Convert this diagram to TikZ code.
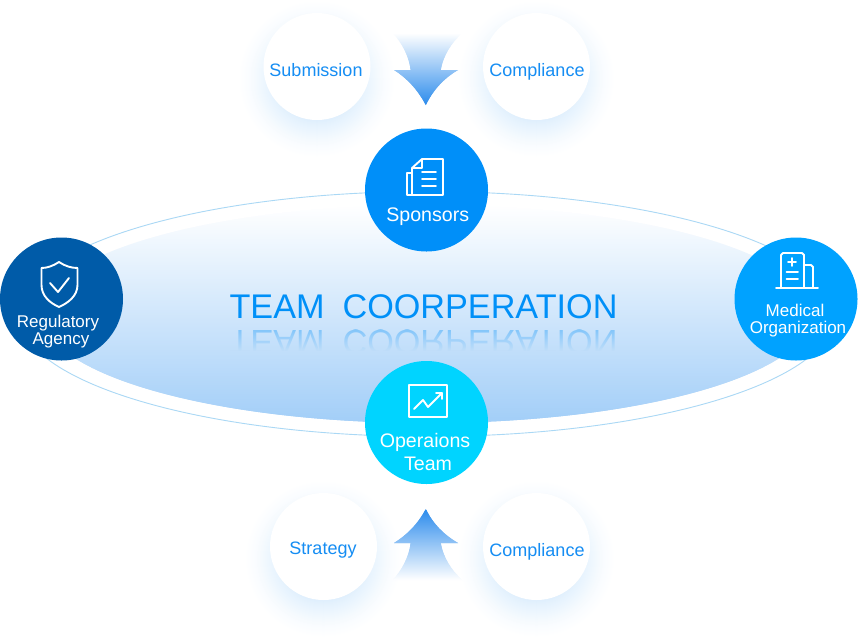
\documentclass[tikz,border=0pt]{standalone}
\usepackage{fontspec}
\usepackage{graphicx}
\setmainfont{Liberation Sans}
\definecolor{sponsorblue}{HTML}{008FF9}
\definecolor{regblue}{HTML}{005BA8}
\definecolor{medblue}{HTML}{00A2FF}
\definecolor{opblue}{HTML}{00D4FF}
\definecolor{labelblue}{HTML}{158DF3}
\definecolor{titleblue}{HTML}{0090F8}
\definecolor{ringblue}{HTML}{AAD8F5}
\definecolor{ellbottom}{HTML}{A2CEF8}
\definecolor{arrowblue}{HTML}{2B8BEC}
\definecolor{glowblue}{rgb}{0.30,0.65,0.96}
\newcommand{\softglow}[2]{%
  \foreach \rr in {80,79,...,40}{%
    \pgfmathsetmacro{\pp}{18*((80-\rr)/39)^1.5}%
    \fill[glowblue!\pp!white] (#1,#2) circle (\rr);
  }}
\newskip\titlegap
\titlegap=18pt
\tikzset{
  softdisc/.style={circle, fill=white, draw=none, minimum size=107pt, inner sep=0pt},
  maindisc/.style={circle, draw=none, minimum size=123pt, inner sep=0pt},
  iconline/.style={draw=white, line width=1.9pt, line join=round, line cap=round},
  softlabel/.style={anchor=base, text=labelblue, font=\fontsize{18}{20}\selectfont, inner sep=0pt},
  mainlabel/.style={anchor=base, text=white, font=\fontsize{17}{19}\selectfont, inner sep=0pt},
  biglabel/.style={anchor=base, text=white, font=\fontsize{19.6}{21}\selectfont, inner sep=0pt},
  titlelabel/.style={anchor=base, text=titleblue, font=\fontsize{34.2}{38}\selectfont, inner sep=0pt},
}
\begin{document}
\begin{tikzpicture}[x=1pt,y=-1pt]
\useasboundingbox (0,0) rectangle (858,643);
\fill[white] (0,0) rectangle (858,643);
% glows
\softglow{317}{79}
\softglow{536.5}{79}
\softglow{323.5}{559}
\softglow{536.5}{559}
% down arrow
\begin{scope}
\clip (393,33) .. controls (402,43) and (409,56) .. (410.7,70) -- (394,70)
  .. controls (407,78) and (418,90) .. (425.8,105)
  .. controls (433,90) and (444,78) .. (458,70) -- (440.7,70)
  .. controls (443,56) and (451,43) .. (462,33) -- cycle;
\foreach \yy in {33,...,105}{
  \pgfmathsetmacro{\tt}{(\yy-33)/0.72}
  \fill[arrowblue!\tt!white] (390,\yy) rectangle (465,\yy+1.6);
}
\end{scope}
% up arrow
\begin{scope}
\clip (393,580) .. controls (402,570) and (409,557) .. (410.7,543) -- (394,543)
  .. controls (407,535) and (418,524) .. (425.8,509)
  .. controls (433,524) and (444,535) .. (458,543) -- (440.7,543)
  .. controls (443,557) and (451,570) .. (462,580) -- cycle;
\foreach \yy in {509,...,580}{
  \pgfmathsetmacro{\tt}{(580-\yy)/0.71}
  \fill[arrowblue!\tt!white] (390,\yy) rectangle (465,\yy+1.6);
}
\end{scope}
% soft circles
\node[softdisc] (submission) at (317,66.5) {};
\node[softdisc] (complianceTop) at (536.5,66.5) {};
\node[softdisc] (strategy) at (323.5,546.5) {};
\node[softdisc] (complianceBottom) at (536.5,546.5) {};
% ellipses
\draw[ringblue, line width=0.9pt] (427,314) ellipse [x radius=408, y radius=122.5];
\begin{scope}
\clip (427,314) ellipse [x radius=385, y radius=109];
\foreach \yy in {205,...,423}{
  \pgfmathsetmacro{\tt}{(\yy-205)/2.18}
  \fill[ellbottom!\tt!white] (40,\yy) rectangle (815,\yy+1.6);
}
\end{scope}
% title and its reflection
\node[titlelabel] (title) at (423.5,318) {\spaceskip\titlegap TEAM COORPERATION};
\node[titlelabel] (reflection) at (423.5,330) {\scalebox{1}[-1]{\spaceskip\titlegap TEAM COORPERATION}};
\foreach \yy in {330,...,355}{
  \pgfmathsetmacro{\tt}{(\yy-205)/2.18}
  \pgfmathsetmacro{\oo}{min(1,0.66+0.34*(\yy-330)/21)}
  \fill[ellbottom!\tt!white, opacity=\oo] (222,\yy) rectangle (626,\yy+1);
}
% main circles
\node[maindisc, fill=sponsorblue] (sponsors) at (426.5,190) {};
\node[maindisc, fill=regblue] (regulatory) at (61.5,299) {};
\node[maindisc, fill=medblue] (medical) at (796,299) {};
\node[maindisc, fill=opblue] (operations) at (426.5,422.5) {};
% sponsors icon
\draw[iconline] (422,159) -- (443,159) -- (443,195) -- (412,195) -- (412,168) -- (422,159) -- (422,168) -- (412,168);
\draw[iconline] (412,173) -- (407,173) -- (407,195) -- (412,195);
\draw[iconline] (422,172) -- (436,172) (422,179) -- (436,179) (422,186) -- (436,186);
% shield icon
\draw[iconline] (59,262) .. controls (53,266) and (47,268) .. (41.5,268) -- (41.5,285)
  .. controls (41.5,296) and (50,303) .. (59,307)
  .. controls (68,303) and (77.5,296) .. (77.5,285) -- (77.5,268)
  .. controls (71,268) and (65,266) .. (59,262) -- cycle;
\draw[iconline] (50,283) -- (58,292) -- (69,278);
% hospital icon
\draw[iconline] (776,288) -- (818,288);
\draw[iconline] (781,288) -- (781,255) -- (783,253) -- (802,253) -- (804,255) -- (804,288);
\draw[iconline] (804,265) -- (811,265) -- (813,267) -- (813,288);
\draw[iconline] (792,258) -- (792,266) (788,262) -- (796,262);
\draw[iconline] (786.5,272) -- (798,272) (786.5,279) -- (798,279);
% chart icon
\draw[iconline] (409,385) rectangle (447,417);
\draw[iconline] (414,409) -- (423,400) -- (428,407) -- (442,393);
\draw[iconline] (436,393) -- (442,393) -- (442,399);
% labels
\node[softlabel] (lblSubmission) at (316,76) {Submission};
\node[softlabel] (lblComplianceTop) at (537,76) {Compliance};
\node[softlabel] (lblStrategy) at (323,554) {Strategy};
\node[softlabel] (lblComplianceBottom) at (537,556) {Compliance};
\node[biglabel] (lblSponsors) at (427.7,221) {Sponsors};
\node[mainlabel] (lblReg) at (58,327) {Regulatory};
\node[mainlabel] (lblAgency) at (61,344) {Agency};
\node[mainlabel] (lblMedical) at (795,316) {Medical};
\node[mainlabel] (lblOrg) at (798,333) {Organization};
\node[biglabel] (lblOper) at (425,447) {Operaions};
\node[biglabel] (lblTeam) at (428,470) {Team};
\end{tikzpicture}
\end{document}
